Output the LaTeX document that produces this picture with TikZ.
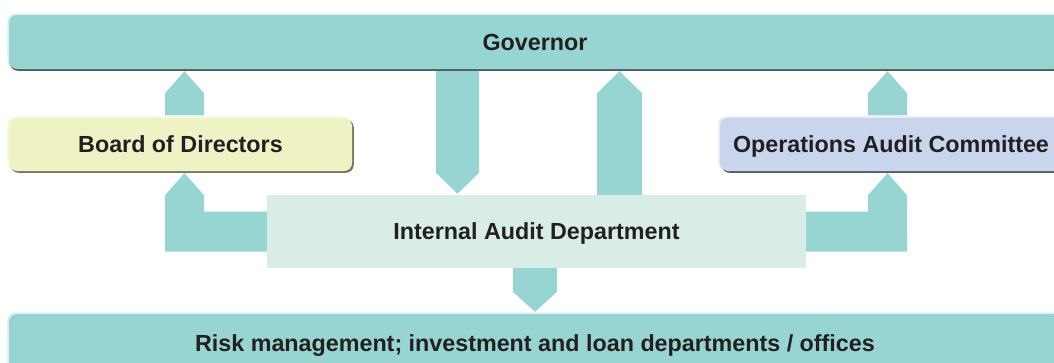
\documentclass[tikz,border=0pt]{standalone}
\usepackage{fontspec}
\setmainfont{Liberation Sans}
\usetikzlibrary{calc,backgrounds}
\definecolor{teal1}{RGB}{151,213,210}
\definecolor{boardc}{RGB}{238,242,196}
\definecolor{oacc}{RGB}{200,213,236}
\definecolor{iadc}{RGB}{216,237,230}
\definecolor{txt}{RGB}{35,31,32}
\definecolor{govsh}{RGB}{78,94,91}
\definecolor{govhl}{RGB}{222,239,239}
\definecolor{boardsh}{RGB}{120,118,96}
\definecolor{boardhl}{RGB}{247,248,230}
\definecolor{oacsh}{RGB}{88,90,100}
\definecolor{oachl}{RGB}{230,234,244}
\begin{document}
\begin{tikzpicture}[x=1pt,y=-1pt,
  box/.style={rectangle, inner sep=0pt, text height=16.7pt, text depth=0pt, font=\fontsize{23.3}{28}\selectfont\bfseries, text=txt},
  rbox/.style={box, rounded corners=8pt},
  flow/.style={fill=teal1},
  shadowbox/.style={rounded corners=8pt}]
\useasboundingbox (0,0) rectangle (1054,362);
\node[rbox, fill=teal1, minimum width=1052pt, minimum height=54pt] (gov) at (535,42) {Governor};
\node[rbox, fill=boardc, minimum width=343pt, minimum height=53pt] (board) at (180.5,144.5) {Board of Directors};
\node[rbox, fill=oacc, minimum width=342pt, minimum height=53pt] (oac) at (891,144.5) {Operations Audit Committee};
\node[box, fill=iadc, minimum width=539pt, minimum height=73pt] (iad) at (536.5,231.5) {Internal Audit Department};
\node[rbox, fill=teal1, minimum width=1052pt, minimum height=59pt] (risk) at (535,343.5) {Risk management; investment and loan departments / offices};
\coordinate (a1) at (184.5,0);
\coordinate (a2) at (457.5,0);
\coordinate (a3) at (619.5,0);
\coordinate (a4) at (887.5,0);
\coordinate (a7) at (535,0);
\begin{scope}[on background layer]
  % connectors
  \fill[flow] ($(a1|-board.north)+(-19.5,-2.5)$) -- ($(a1|-gov.south)+(-19.5,24)$) -- ($(a1|-gov.south)+(0,2)$) -- ($(a1|-gov.south)+(19.5,24)$) -- ($(a1|-board.north)+(19.5,-2.5)$) -- cycle;
  \fill[flow] ($(a2|-gov.south)+(-21.5,0)$) -- ($(a2|-iad.north)+(-21.5,-22)$) -- ($(a2|-iad.north)+(0,-1)$) -- ($(a2|-iad.north)+(21.5,-22)$) -- ($(a2|-gov.south)+(21.5,0)$) -- cycle;
  \fill[flow] ($(a3|-iad.north)+(-22.5,0)$) -- ($(a3|-gov.south)+(-22.5,24)$) -- ($(a3|-gov.south)+(0,2)$) -- ($(a3|-gov.south)+(22.5,24)$) -- ($(a3|-iad.north)+(22.5,0)$) -- cycle;
  \fill[flow] ($(a4|-oac.north)+(-19.5,-2.5)$) -- ($(a4|-gov.south)+(-19.5,24)$) -- ($(a4|-gov.south)+(0,2)$) -- ($(a4|-gov.south)+(19.5,24)$) -- ($(a4|-oac.north)+(19.5,-2.5)$) -- cycle;
  \fill[flow] ($(iad.west)+(2,-20)$) -- ($(a1|-iad.west)+(19.5,-20)$) -- ($(a1|-board.south)+(19.5,24)$) -- ($(a1|-board.south)+(0,2)$) -- ($(a1|-board.south)+(-19.5,24)$) -- ($(a1|-iad.west)+(-19.5,20)$) -- ($(iad.west)+(2,20)$) -- cycle;
  \fill[flow] ($(iad.east)+(-2,-20)$) -- ($(a4|-iad.east)+(-19.5,-20)$) -- ($(a4|-oac.south)+(-19.5,24)$) -- ($(a4|-oac.south)+(0,2)$) -- ($(a4|-oac.south)+(19.5,24)$) -- ($(a4|-iad.east)+(19.5,20)$) -- ($(iad.east)+(-2,20)$) -- cycle;
  \fill[flow] ($(a7|-iad.south)+(-22,0)$) -- ($(a7|-risk.north)+(-22,-22)$) -- ($(a7|-risk.north)+(0,-2)$) -- ($(a7|-risk.north)+(22,-22)$) -- ($(a7|-iad.south)+(22,0)$) -- cycle;
  % highlights and shadows
  \fill[govhl, shadowbox] ([shift={(-1.5,-1.5)}]gov.north west) rectangle ([shift={(-1.5,-1.5)}]gov.south east);
  \fill[govsh, shadowbox] ([shift={(1,1.6)}]gov.north west) rectangle ([shift={(1,1.6)}]gov.south east);
  \fill[boardhl, shadowbox] ([shift={(-1.5,-1.5)}]board.north west) rectangle ([shift={(-1.5,-1.5)}]board.south east);
  \fill[boardsh, shadowbox] ([shift={(1.6,1.6)}]board.north west) rectangle ([shift={(1.6,1.6)}]board.south east);
  \fill[oachl, shadowbox] ([shift={(-1.5,-1.5)}]oac.north west) rectangle ([shift={(-1.5,-1.5)}]oac.south east);
  \fill[oacsh, shadowbox] ([shift={(1.6,1.6)}]oac.north west) rectangle ([shift={(1.6,1.6)}]oac.south east);
  \fill[govhl, shadowbox] ([shift={(-1.5,-1.5)}]risk.north west) rectangle ([shift={(-1.5,-1.5)}]risk.south east);
\end{scope}
\end{tikzpicture}
\end{document}
